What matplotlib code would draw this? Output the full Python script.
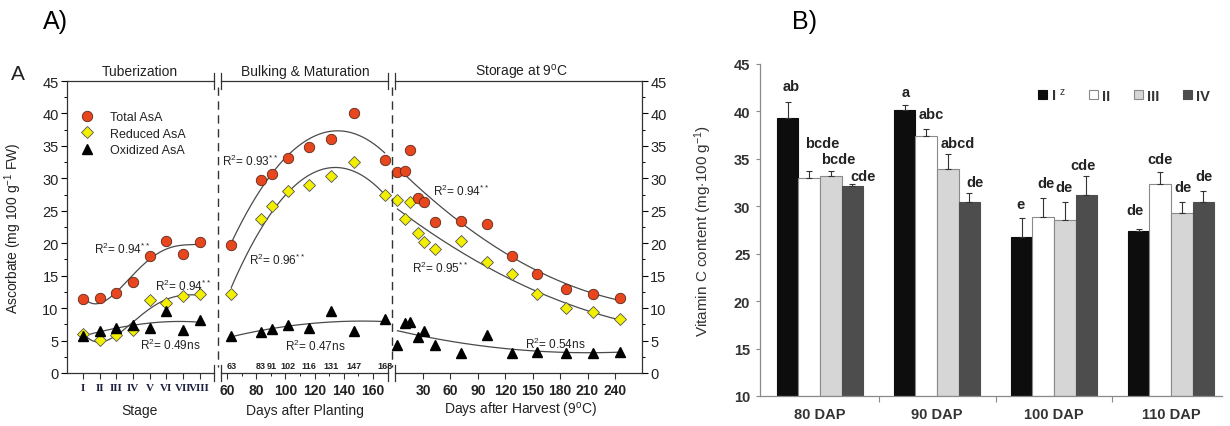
import numpy as np
import matplotlib
matplotlib.use('Agg')
import matplotlib.pyplot as plt
from matplotlib.lines import Line2D
from matplotlib.patches import Patch
from matplotlib.ticker import MultipleLocator

plt.rcParams['font.family'] = ['Liberation Sans', 'DejaVu Sans']
plt.rcParams['mathtext.fontset'] = 'custom'
plt.rcParams['mathtext.rm'] = 'Liberation Sans'
plt.rcParams['mathtext.it'] = 'Liberation Sans:italic'
plt.rcParams['mathtext.bf'] = 'Liberation Sans:bold'

# ---- panel A: ascorbate during tuberization / bulking / storage
stages = ['I', 'II', 'III', 'IV', 'V', 'VI', 'VII', 'VIII']
stage_total = [11.4, 11.5, 12.3, 14.0, 18.1, 20.3, 18.4, 20.2]
stage_reduced = [6.0, 5.1, 5.9, 6.7, 11.3, 10.8, 11.9, 12.1]
stage_oxidized = [5.7, 6.4, 6.9, 7.4, 6.9, 9.6, 6.6, 8.2]

dap = [63, 83, 91, 102, 116, 131, 147, 168]
dap_total = [19.7, 29.8, 30.6, 33.1, 34.9, 36.0, 40.0, 32.8]
dap_reduced = [12.1, 23.8, 25.7, 28.0, 29.0, 30.3, 32.5, 27.4]
dap_oxidized = [5.7, 6.3, 6.8, 7.4, 7.0, 9.6, 6.5, 8.3]

dah = [2, 10, 16, 24, 31, 43, 72, 100, 127, 155, 186, 216, 246]
dah_total = [30.9, 31.1, 34.3, 26.9, 26.4, 23.2, 23.5, 22.9, 18.1, 15.3, 12.9, 12.2, 11.5]
dah_reduced = [26.7, 23.7, 26.4, 21.6, 20.2, 19.1, 20.4, 17.1, 15.2, 12.1, 10.0, 9.4, 8.3]
dah_oxidized = [4.3, 7.7, 7.8, 5.5, 6.4, 4.3, 3.1, 5.9, 3.1, 3.3, 3.1, 3.1, 3.3]

stage_r2 = ['0.94$^{**}$', '0.94$^{**}$', '0.49ns']
dap_r2 = ['0.93$^{**}$', '0.96$^{**}$', '0.47ns']
dah_r2 = ['0.94$^{**}$', '0.95$^{**}$', '0.54ns']

# ---- panel B: vitamin C by harvest date and treatment
dap_groups = ['80 DAP', '90 DAP', '100 DAP', '110 DAP']
treatments = ['I', 'II', 'III', 'IV']
vitc_I = [39.3, 40.2, 26.8, 27.4]
vitc_II = [33.0, 37.45, 28.85, 32.4]
vitc_III = [33.2, 33.9, 28.6, 29.3]
vitc_IV = [32.15, 30.5, 31.2, 30.5]
err_I = [1.7, 0.5, 2.0, 0.2]
err_II = [0.7, 0.7, 2.05, 1.25]
err_III = [0.5, 1.6, 1.9, 1.2]
err_IV = [0.15, 0.9, 2.0, 1.1]
letters_I = ['ab', 'a', 'e', 'de']
letters_II = ['bcde', 'abc', 'de', 'cde']
letters_III = ['bcde', 'abcd', 'de', 'de']
letters_IV = ['cde', 'de', 'cde', 'de']

W, H = 1230, 427
fig = plt.figure(figsize=(W / 100, H / 100), dpi=100)


def fx(px):
    return px / W


def fy(py):
    return 1 - py / H


def px_axes(x0, x1, y0, y1):
    return fig.add_axes([fx(x0), fy(y1), (x1 - x0) / W, (y1 - y0) / H])


ink = '#222222'
red = '#e8461e'
yellow = '#f3ef00'
curve = '#4a4a4a'

ax1 = px_axes(67, 214, 82, 374)
ax2 = px_axes(221, 388, 82, 374)
ax3 = px_axes(395, 642, 82, 374)


def draw_series(ax, x, tot, red_, oxi, degs, x_from):
    for y, deg, first in zip([tot, red_, oxi], degs, x_from):
        c = np.polyfit(x, y, deg)
        xs = np.linspace(first, x[-1], 200)
        ax.plot(xs, np.polyval(c, xs), color=curve, lw=0.9, zorder=2)
    ax.plot(x, tot, 'o', ms=7.5, mfc=red, mec='#5a2a1a', mew=0.6, zorder=4, clip_on=False)
    ax.plot(x, red_, 'D', ms=6.2, mfc=yellow, mec='#555555', mew=0.6, zorder=3, clip_on=False)
    ax.plot(x, oxi, '^', ms=6.5, color='black', zorder=5, clip_on=False)


sx = np.arange(1, len(stages) + 1)
draw_series(ax1, sx, stage_total, stage_reduced, stage_oxidized, [4, 4, 3], [1, 1, 1])
draw_series(ax2, dap, dap_total, dap_reduced, dap_oxidized, [2, 2, 2], [63, 63, 63])
draw_series(ax3, dah, dah_total, dah_reduced, dah_oxidized, [2, 2, 2], [9, 2, 2])

ax1.set_xlim(0.03, 8.87)
ax2.set_xlim(55.9, 170.3)
ax3.set_xlim(-0.7, 269.6)

for ax in (ax1, ax2, ax3):
    ax.set_ylim(0, 45)
    for s in ax.spines.values():
        s.set_color('#333333')
        s.set_linewidth(0.9)
    ax.spines['right'].set_visible(False)
    ax.spines['left'].set_visible(False)
    ax.tick_params(axis='x', direction='out', length=4, width=0.8, color='#333333', pad=3)
    ax.tick_params(axis='y', left=False, labelleft=False)

ax1.spines['left'].set_visible(True)
ax1.tick_params(axis='y', left=True, labelleft=True, length=4, width=0.8, labelsize=10.5,
                labelcolor=ink, pad=2)
ax1.yaxis.set_major_locator(MultipleLocator(5))
ax1.yaxis.set_minor_locator(MultipleLocator(2.5))
ax1.tick_params(axis='y', which='minor', length=2.5, width=0.7)

ax3.spines['right'].set_visible(True)
ax3.yaxis.tick_right()
ax3.tick_params(axis='y', right=True, labelright=True, length=4, width=0.8, labelsize=10.5,
                labelcolor=ink, pad=2)
ax3.yaxis.set_major_locator(MultipleLocator(5))
ax3.yaxis.set_minor_locator(MultipleLocator(2.5))
ax3.tick_params(axis='y', which='minor', length=2.5, width=0.7)

ax1.set_xticks(sx)
ax1.set_xticklabels(stages, fontfamily='Liberation Serif', fontweight='bold', fontsize=8,
                    color='#1f2240')
ax2.set_xticks([60, 80, 100, 120, 140, 160])
ax2.xaxis.set_minor_locator(MultipleLocator(10))
ax2.tick_params(axis='x', which='minor', length=2.5)
ax3.set_xticks([30, 60, 90, 120, 150, 180, 210, 240])
for ax in (ax2, ax3):
    for lab in ax.get_xticklabels():
        lab.set_fontweight('bold')
        lab.set_fontsize(10)
        lab.set_color(ink)

for d in dap:
    ax2.text(d, 1.1, str(d), ha='center', va='center', fontsize=6.5, fontweight='bold', color=ink)

# break marks on the top and bottom lines
for ax, edges in ((ax1, [1]), (ax2, [0, 1]), (ax3, [0])):
    for e in edges:
        for yb in (0, 1):
            ax.plot([e, e], [yb - 0.026, yb + 0.026], transform=ax.transAxes, color='#333333',
                    lw=0.9, clip_on=False)

for xd in (218, 392):
    fig.add_artist(Line2D([fx(xd), fx(xd)], [fy(88), fy(368)], color='#333333', lw=1,
                          ls=(0, (6, 4))))

# R^2 annotations
r2_style = dict(fontsize=8.5, color=ink, va='center', ha='left')
for (x, y), t in zip([(1.63, 19.2), (5.32, 13.45), (4.43, 4.47)], stage_r2):
    ax1.text(x, y, 'R$^2$= ' + t, **r2_style)
for (x, y), t in zip([(56.6, 32.8), (75.1, 17.5), (99.7, 4.2)], dap_r2):
    ax2.text(x, y, 'R$^2$= ' + t, **r2_style)
for (x, y), t in zip([(40.9, 28.2), (17.9, 16.3), (141.6, 4.5)], dah_r2):
    ax3.text(x, y, 'R$^2$= ' + t, **r2_style)

# legend
hnd = [Line2D([], [], ls='none', marker='o', ms=7.5, mfc=red, mec='#5a2a1a', mew=0.6),
       Line2D([], [], ls='none', marker='D', ms=6.2, mfc=yellow, mec='#555555', mew=0.6),
       Line2D([], [], ls='none', marker='^', ms=6.5, color='black')]
fig.legend(hnd, ['Total AsA', 'Reduced AsA', 'Oxidized AsA'], loc='upper left',
           bbox_to_anchor=(fx(81), fy(112)), frameon=False, fontsize=9, handlelength=1.0,
           handletextpad=1.3, labelspacing=0.38, borderpad=0, borderaxespad=0,
           labelcolor=ink)

# titles and labels
for xc, t in ((140, 'Tuberization'), (305, 'Bulking & Maturation'),
              (522, 'Storage at 9$^{\\rm o}$C')):
    fig.text(fx(xc), fy(72), t, ha='center', va='center', fontsize=10, color=ink)
for xc, t in ((140, 'Stage'), (305, 'Days after Planting'), (520, 'Days after Harvest (9$^{\\rm o}$C)')):
    fig.text(fx(xc), fy(411), t, ha='center', va='center', fontsize=10, color=ink)
ax1.set_ylabel('Ascorbate (mg 100 g$^{-1}$ FW)', fontsize=10, color=ink)
ax1.yaxis.set_label_coords(-0.29, 0.5)
fig.text(fx(18), fy(75), 'A', ha='center', va='center', fontsize=15, color=ink)
fig.text(fx(55), fy(22), 'A)', ha='center', va='center', fontsize=18, color='black')
fig.text(fx(805), fy(22), 'B)', ha='center', va='center', fontsize=18, color='black')

# ---- panel B
axb = px_axes(760, 1222, 65, 397)
vals = [vitc_I, vitc_II, vitc_III, vitc_IV]
errs = [err_I, err_II, err_III, err_IV]
lets = [letters_I, letters_II, letters_III, letters_IV]
faces = ['#0d0d0d', 'white', '#d6d6d6', '#4d4d4d']
edges = ['#0d0d0d', '#8a8a8a', '#8a8a8a', '#4d4d4d']
# letter placement tweaks (x in group units, y gap above the error bar)
letter_dx = [[0.03, 0.01, -0.01, -0.03], [0.11, 0.04, 0.02, 0.0],
             [0.06, 0.085, -0.01, 0.01], [0.09, 0.05, -0.03, 0.01]]
letter_dy = [[1.7, 1.4, 1.4, 2.0], [3.0, 1.55, 1.6, 1.35],
             [1.3, 1.2, 1.5, 1.5], [0.9, 1.2, 1.2, 1.6]]
bw = 0.184
gx = np.arange(len(dap_groups))
for i in range(len(treatments)):
    xs = gx + (i - 1.5) * bw
    axb.bar(xs, np.array(vals[i]) - 10, bw, bottom=10, color=faces[i], edgecolor=edges[i],
            linewidth=0.8, zorder=2)
    axb.errorbar(xs, vals[i], yerr=[np.zeros(len(gx)), errs[i]], fmt='none', ecolor='#333333',
                 elinewidth=0.8, capsize=2.5, capthick=0.8, zorder=3)
    for j in range(len(gx)):
        axb.text(xs[j] + letter_dx[i][j], vals[i][j] + errs[i][j] + letter_dy[i][j], lets[i][j],
                 ha='center', va='center', fontsize=10.5, fontweight='bold', color='#222222')

axb.set_xlim(-0.513, 3.436)
axb.set_ylim(10, 45)
axb.spines['top'].set_visible(False)
axb.spines['right'].set_visible(False)
for s in ('left', 'bottom'):
    axb.spines[s].set_color('#8a8a8a')
    axb.spines[s].set_linewidth(0.9)
axb.yaxis.set_major_locator(MultipleLocator(5))
axb.tick_params(axis='y', length=3, width=0.8, color='#8a8a8a', labelsize=10.5, pad=4)
for lab in axb.get_yticklabels():
    lab.set_fontweight('bold')
    lab.set_color('#333333')
axb.set_xticks(gx)
axb.set_xticklabels(dap_groups, fontweight='bold', fontsize=10.5, color='#333333')
axb.tick_params(axis='x', length=0, pad=8)
axb.set_xticks(gx[:-1] + 0.5, minor=True)
axb.tick_params(axis='x', which='minor', length=4, width=0.8, color='#8a8a8a')
axb.set_ylabel('Vitamin C content (mg$\\cdot$100 g$^{-1}$)', fontsize=11, color='#333333')
axb.yaxis.set_label_coords(-0.1, 0.5)

bh = [Patch(facecolor=f, edgecolor=e, linewidth=0.8) for f, e in zip(faces, edges)]
leg = axb.legend(bh, ['I $^{\\rm z}$', 'II', 'III', 'IV'], ncol=4, loc='center left',
                 bbox_to_anchor=((1038 - 760) / 462, (397 - 96) / 332), frameon=False,
                 handlelength=0.6, handleheight=0.6, handletextpad=0.3, columnspacing=1.6,
                 borderpad=0, borderaxespad=0, prop={'weight': 'bold', 'size': 10.5})
for t in leg.get_texts():
    t.set_color('#333333')

fig.savefig('out.png', dpi=100)
